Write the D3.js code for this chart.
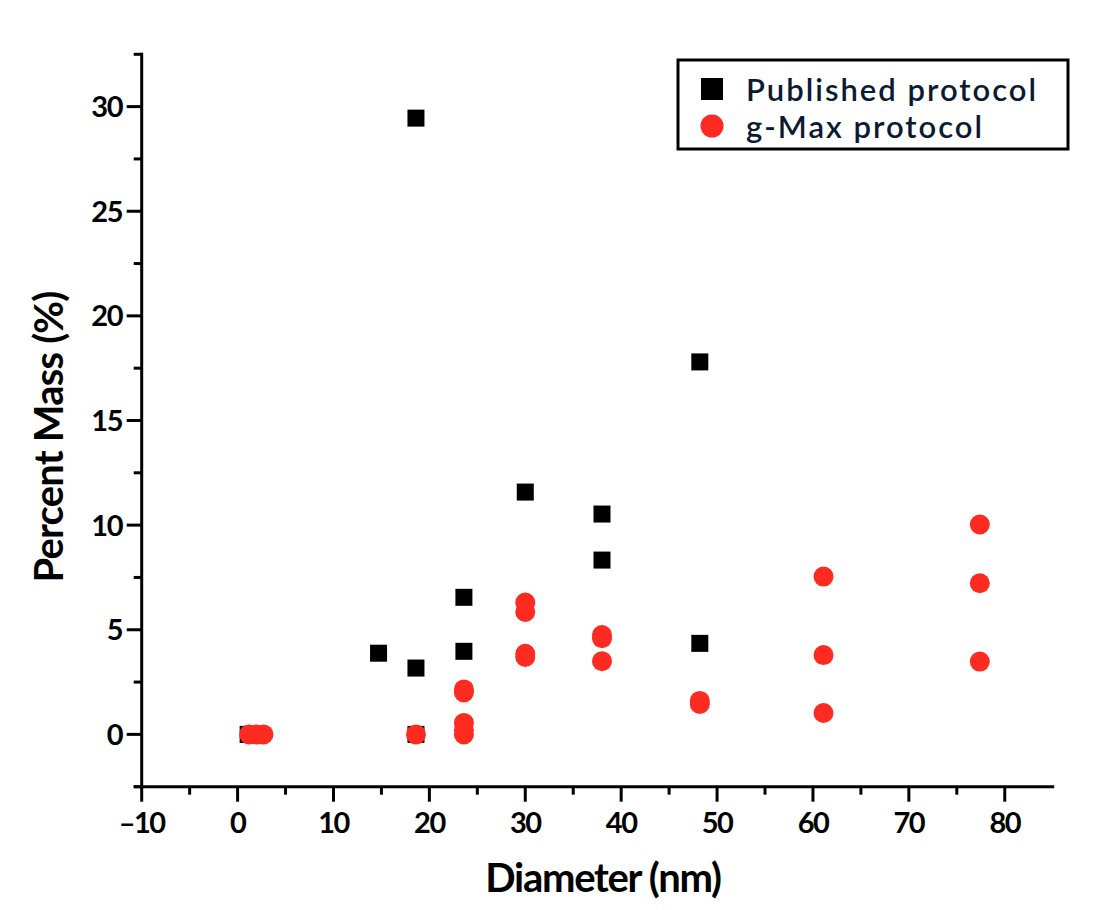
<!DOCTYPE html>
<html><head><meta charset="utf-8">
<script src="https://cdn.jsdelivr.net/npm/d3@7"></script>
<style>
body{margin:0;background:#fff;}
text{font-family:Lato,"Open Sans",sans-serif;}
</style></head>
<body><svg id="c" width="1116" height="910"></svg>
<script>
const publishedX = [1.1, 14.7, 18.6, 18.6, 18.6, 23.6, 23.6, 30, 38, 38, 48.2, 48.2];
const publishedY = [0, 3.88, 29.45, 3.17, 0, 6.55, 3.97, 11.58, 10.53, 8.33, 17.8, 4.35];
const gmaxX = [1.2, 2.0, 2.7, 18.6, 23.6, 23.6, 23.6, 23.6, 23.6, 30, 30, 30, 30, 38, 38, 38, 48.2, 48.2, 61.1, 61.1, 61.1, 77.4, 77.4, 77.4];
const gmaxY = [0, 0, 0, 0, 2.0, 2.15, 0.55, 0.2, 0.0, 6.3, 5.85, 3.7, 3.85, 4.6, 4.75, 3.5, 1.6, 1.45, 7.54, 3.79, 1.02, 10.03, 7.22, 3.48];
const xTicks = [-10, 0, 10, 20, 30, 40, 50, 60, 70, 80];
const yTicks = [0, 5, 10, 15, 20, 25, 30];
const seriesNames = ["Published protocol", "g-Max protocol"];
const xTitle = "Diameter (nm)";
const yTitle = "Percent Mass (%)";

const svg = d3.select("#c");
const x = d3.scaleLinear().domain([-10, 85]).range([141.7, 1052.7]);
const y = d3.scaleLinear().domain([-2.5, 32.5]).range([786.7, 54.3]);
const red = "#ff2a20";

// minor ticks
const xMinor = d3.range(-5, 85, 10);
const yMinor = d3.range(-2.5, 33, 5);
const g = svg.append("g");
g.selectAll(".xm").data(xMinor).join("line")
  .attr("x1", d => x(d)).attr("x2", d => x(d))
  .attr("y1", y(-2.5)).attr("y2", y(-2.5) + 8)
  .attr("stroke", "#000").attr("stroke-width", 3);
g.selectAll(".xM").data(xTicks).join("line")
  .attr("x1", d => x(d)).attr("x2", d => x(d))
  .attr("y1", y(-2.5)).attr("y2", y(-2.5) + 15)
  .attr("stroke", "#000").attr("stroke-width", 3);
g.selectAll(".ym").data(yMinor).join("line")
  .attr("x1", x(-10) - 8).attr("x2", x(-10))
  .attr("y1", d => y(d)).attr("y2", d => y(d))
  .attr("stroke", "#000").attr("stroke-width", 3);
g.selectAll(".yM").data(yTicks).join("line")
  .attr("x1", x(-10) - 15).attr("x2", x(-10))
  .attr("y1", d => y(d)).attr("y2", d => y(d))
  .attr("stroke", "#000").attr("stroke-width", 3);
// axis lines
g.append("line").attr("x1", x(-10)).attr("x2", x(-10)).attr("y1", y(32.5) - 1.5).attr("y2", y(-2.5) + 1.5)
  .attr("stroke", "#000").attr("stroke-width", 3);
g.append("line").attr("x1", x(-10) - 8).attr("x2", x(85) + 1.5).attr("y1", y(-2.5)).attr("y2", y(-2.5))
  .attr("stroke", "#000").attr("stroke-width", 3);

// tick labels
g.selectAll(".xl").data(xTicks).join("text")
  .attr("x", d => x(d)).attr("y", 833)
  .attr("text-anchor", "middle").attr("font-size", 29).attr("font-weight", 700)
  .attr("letter-spacing", -1.5)
  .text(d => d < 0 ? "\u2013" + Math.abs(d) : d);
g.selectAll(".yl").data(yTicks).join("text")
  .attr("x", 122).attr("y", d => y(d) + 10.5)
  .attr("text-anchor", "end").attr("font-size", 29).attr("font-weight", 700)
  .attr("letter-spacing", -1.5)
  .text(d => d);

// titles
svg.append("text").attr("x", 603).attr("y", 892).attr("text-anchor", "middle")
  .attr("font-size", 40).attr("font-weight", 700).attr("letter-spacing", -1.3).text(xTitle);
svg.append("text").attr("transform", `translate(63,437) rotate(-90)`).attr("text-anchor", "middle")
  .attr("font-size", 40).attr("font-weight", 700).attr("letter-spacing", -0.8).text(yTitle);

// data
const pub = publishedX.map((v, i) => ({x: v, y: publishedY[i]}));
const gm = gmaxX.map((v, i) => ({x: v, y: gmaxY[i]}));
const sq = 17;
svg.append("g").selectAll("rect").data(pub).join("rect")
  .attr("x", d => x(d.x) - sq / 2).attr("y", d => y(d.y) - sq / 2)
  .attr("width", sq).attr("height", sq).attr("fill", "#000");
svg.append("g").selectAll("circle").data(gm).join("circle")
  .attr("cx", d => x(d.x)).attr("cy", d => y(d.y)).attr("r", 10).attr("fill", red);

// legend
const lg = svg.append("g");
lg.append("rect").attr("x", 678).attr("y", 60).attr("width", 390).attr("height", 89)
  .attr("fill", "#fff").attr("stroke", "#000").attr("stroke-width", 3);
lg.append("rect").attr("x", 712 - 11).attr("y", 89 - 11).attr("width", 22).attr("height", 22).attr("fill", "#000");
lg.append("circle").attr("cx", 712).attr("cy", 126).attr("r", 11.5).attr("fill", red);
lg.selectAll(".lt").data(seriesNames).join("text")
  .attr("x", 746).attr("y", (d, i) => 101 + i * 37)
  .attr("font-size", 31).attr("fill", "#0b1a33").attr("font-weight", 600)
  .attr("letter-spacing", 2.0)
  .text(d => d);
</script></body></html>
